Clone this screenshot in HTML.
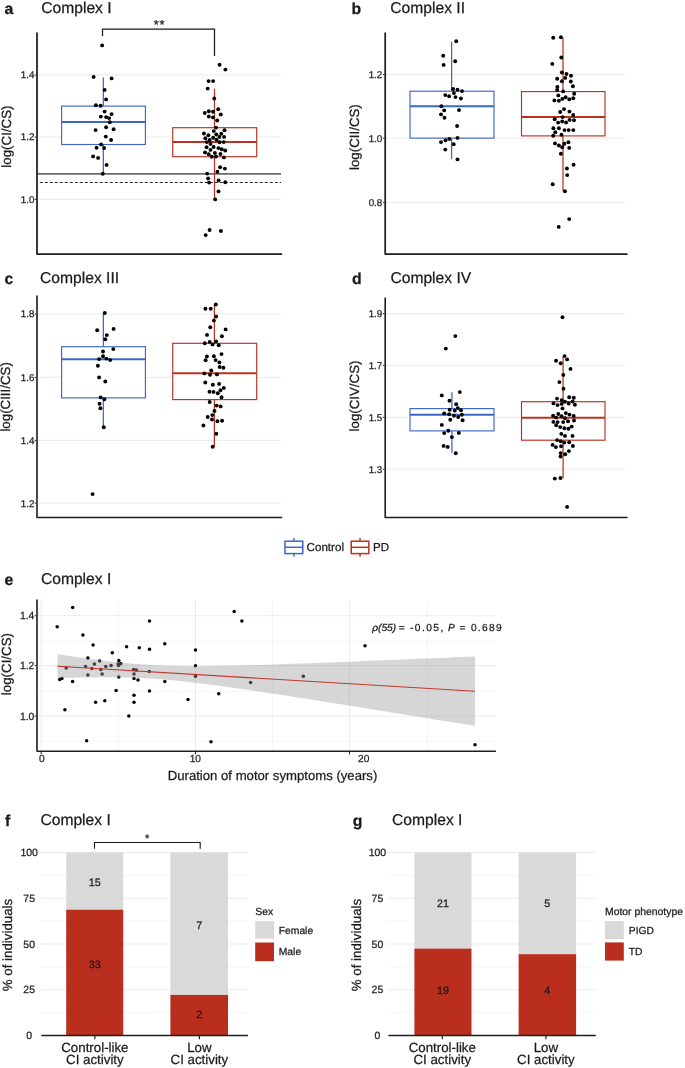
<!DOCTYPE html>
<html><head><meta charset="utf-8"><style>
html,body{margin:0;padding:0;background:#fff;}
svg{display:block;will-change:transform;}
text{font-family:"Liberation Sans",sans-serif;text-rendering:geometricPrecision;stroke:#1a1a1a;stroke-width:0.25px;paint-order:stroke;}
</style></head><body>
<svg width="685" height="1068" viewBox="0 0 685 1068">
<rect width="685" height="1068" fill="#fff"/>
<text x="4.4" y="13.8" font-size="15.8" text-anchor="start" font-weight="bold" fill="#1a1a1a" >a</text>
<text x="41.2" y="13.3" font-size="15.65" text-anchor="start" font-weight="normal" fill="#1a1a1a" >Complex I</text>
<line x1="37.4" y1="74.9" x2="281" y2="74.9" stroke="#ebebeb" stroke-width="1.0" />
<line x1="37.4" y1="137.0" x2="281" y2="137.0" stroke="#ebebeb" stroke-width="1.0" />
<line x1="37.4" y1="199.3" x2="281" y2="199.3" stroke="#ebebeb" stroke-width="1.0" />
<text x="34.4" y="78.379" font-size="9.8" text-anchor="end" font-weight="normal" fill="#222222" >1.4</text>
<line x1="34.699999999999996" y1="74.9" x2="36.3" y2="74.9" stroke="#222222" stroke-width="1.0" />
<text x="34.4" y="140.479" font-size="9.8" text-anchor="end" font-weight="normal" fill="#222222" >1.2</text>
<line x1="34.699999999999996" y1="137.0" x2="36.3" y2="137.0" stroke="#222222" stroke-width="1.0" />
<text x="34.4" y="202.77900000000002" font-size="9.8" text-anchor="end" font-weight="normal" fill="#222222" >1.0</text>
<line x1="34.699999999999996" y1="199.3" x2="36.3" y2="199.3" stroke="#222222" stroke-width="1.0" />
<text transform="translate(10.75,136.6) rotate(-90)" font-size="13.3" text-anchor="middle" fill="#1a1a1a">log(CI/CS)</text>
<line x1="37.4" y1="173.8" x2="281" y2="173.8" stroke="#6a6a6a" stroke-width="1.7" />
<line x1="37.4" y1="182.5" x2="281" y2="182.5" stroke="#262626" stroke-width="1.15" stroke-dasharray="3.0,2.0" stroke-dashoffset="2.6"/>
<line x1="103.35" y1="77.5" x2="103.35" y2="106.1" stroke="#3d67c6" stroke-width="1.25" />
<line x1="103.35" y1="144.5" x2="103.35" y2="173.7" stroke="#3d67c6" stroke-width="1.25" />
<rect x="61.6" y="106.1" width="83.80000000000001" height="38.400000000000006" fill="#fff" stroke="#3d67c6" stroke-width="1.15"/>
<line x1="61.6" y1="122.0" x2="145.4" y2="122.0" stroke="#3d67c6" stroke-width="2.0" />
<line x1="214.5" y1="88.7" x2="214.5" y2="127.7" stroke="#b8321f" stroke-width="1.25" />
<line x1="214.5" y1="156.7" x2="214.5" y2="199.3" stroke="#b8321f" stroke-width="1.25" />
<rect x="172.7" y="127.7" width="84.0" height="28.999999999999986" fill="#fff" stroke="#b8321f" stroke-width="1.15"/>
<line x1="172.7" y1="142.0" x2="256.7" y2="142.0" stroke="#b8321f" stroke-width="2.0" />
<circle cx="102.1" cy="45.4" r="1.95" fill="#000"/>
<circle cx="93.6" cy="76.9" r="1.95" fill="#000"/>
<circle cx="111.6" cy="78.4" r="1.95" fill="#000"/>
<circle cx="104.6" cy="89.9" r="1.95" fill="#000"/>
<circle cx="106.1" cy="99.4" r="1.95" fill="#000"/>
<circle cx="95.9" cy="105.3" r="1.95" fill="#000"/>
<circle cx="100.6" cy="105.8" r="1.95" fill="#000"/>
<circle cx="104.6" cy="111.6" r="1.95" fill="#000"/>
<circle cx="111.6" cy="114.1" r="1.95" fill="#000"/>
<circle cx="100.8" cy="116.6" r="1.95" fill="#000"/>
<circle cx="106.1" cy="117.1" r="1.95" fill="#000"/>
<circle cx="109.1" cy="118.1" r="1.95" fill="#000"/>
<circle cx="109.8" cy="122.3" r="1.95" fill="#000"/>
<circle cx="106.1" cy="127.3" r="1.95" fill="#000"/>
<circle cx="113.6" cy="129.3" r="1.95" fill="#000"/>
<circle cx="95.6" cy="130.1" r="1.95" fill="#000"/>
<circle cx="105.8" cy="136.6" r="1.95" fill="#000"/>
<circle cx="111.1" cy="140.0" r="1.95" fill="#000"/>
<circle cx="101.1" cy="144.4" r="1.95" fill="#000"/>
<circle cx="96.6" cy="147.7" r="1.95" fill="#000"/>
<circle cx="104.1" cy="148.0" r="1.95" fill="#000"/>
<circle cx="93.1" cy="156.4" r="1.95" fill="#000"/>
<circle cx="98.1" cy="157.9" r="1.95" fill="#000"/>
<circle cx="106.6" cy="164.9" r="1.95" fill="#000"/>
<circle cx="102.8" cy="173.7" r="1.95" fill="#000"/>
<circle cx="219.6" cy="64.7" r="1.95" fill="#000"/>
<circle cx="225.4" cy="69.6" r="1.95" fill="#000"/>
<circle cx="208.6" cy="81.1" r="1.95" fill="#000"/>
<circle cx="213.1" cy="81.1" r="1.95" fill="#000"/>
<circle cx="207.7" cy="88.6" r="1.95" fill="#000"/>
<circle cx="214.3" cy="98.5" r="1.95" fill="#000"/>
<circle cx="218.2" cy="109.2" r="1.95" fill="#000"/>
<circle cx="208.8" cy="111.2" r="1.95" fill="#000"/>
<circle cx="213" cy="111.8" r="1.95" fill="#000"/>
<circle cx="204.8" cy="113" r="1.95" fill="#000"/>
<circle cx="220.8" cy="114.5" r="1.95" fill="#000"/>
<circle cx="208.8" cy="116.5" r="1.95" fill="#000"/>
<circle cx="213" cy="117.4" r="1.95" fill="#000"/>
<circle cx="217.2" cy="120.5" r="1.95" fill="#000"/>
<circle cx="216" cy="127.6" r="1.95" fill="#000"/>
<circle cx="224.5" cy="130.3" r="1.95" fill="#000"/>
<circle cx="213.8" cy="131.1" r="1.95" fill="#000"/>
<circle cx="203.9" cy="133.5" r="1.95" fill="#000"/>
<circle cx="208.4" cy="135.3" r="1.95" fill="#000"/>
<circle cx="221.3" cy="133.7" r="1.95" fill="#000"/>
<circle cx="216.3" cy="134.5" r="1.95" fill="#000"/>
<circle cx="219.4" cy="136.9" r="1.95" fill="#000"/>
<circle cx="224.1" cy="136.9" r="1.95" fill="#000"/>
<circle cx="205.4" cy="138.2" r="1.95" fill="#000"/>
<circle cx="213.2" cy="137.8" r="1.95" fill="#000"/>
<circle cx="209.7" cy="140" r="1.95" fill="#000"/>
<circle cx="216.6" cy="139.7" r="1.95" fill="#000"/>
<circle cx="206.7" cy="142.1" r="1.95" fill="#000"/>
<circle cx="219.5" cy="142.2" r="1.95" fill="#000"/>
<circle cx="223.7" cy="142.1" r="1.95" fill="#000"/>
<circle cx="210.5" cy="143.9" r="1.95" fill="#000"/>
<circle cx="206.6" cy="147.3" r="1.95" fill="#000"/>
<circle cx="213.6" cy="147" r="1.95" fill="#000"/>
<circle cx="218.4" cy="148.1" r="1.95" fill="#000"/>
<circle cx="221.7" cy="149.2" r="1.95" fill="#000"/>
<circle cx="225.2" cy="150.5" r="1.95" fill="#000"/>
<circle cx="210.5" cy="149.9" r="1.95" fill="#000"/>
<circle cx="205" cy="152.4" r="1.95" fill="#000"/>
<circle cx="208.7" cy="154.2" r="1.95" fill="#000"/>
<circle cx="214.9" cy="153" r="1.95" fill="#000"/>
<circle cx="220.4" cy="154" r="1.95" fill="#000"/>
<circle cx="211.8" cy="156.7" r="1.95" fill="#000"/>
<circle cx="216" cy="156.5" r="1.95" fill="#000"/>
<circle cx="223.9" cy="157.4" r="1.95" fill="#000"/>
<circle cx="220.1" cy="167.2" r="1.95" fill="#000"/>
<circle cx="224.9" cy="168.6" r="1.95" fill="#000"/>
<circle cx="217.4" cy="171.7" r="1.95" fill="#000"/>
<circle cx="207.2" cy="173.6" r="1.95" fill="#000"/>
<circle cx="208.1" cy="178.5" r="1.95" fill="#000"/>
<circle cx="218.6" cy="180.4" r="1.95" fill="#000"/>
<circle cx="209.1" cy="182.6" r="1.95" fill="#000"/>
<circle cx="225.3" cy="182.3" r="1.95" fill="#000"/>
<circle cx="218.5" cy="191.4" r="1.95" fill="#000"/>
<circle cx="215.2" cy="199.4" r="1.95" fill="#000"/>
<circle cx="209.6" cy="230" r="1.95" fill="#000"/>
<circle cx="205.7" cy="235.1" r="1.95" fill="#000"/>
<circle cx="220.9" cy="231" r="1.95" fill="#000"/>
<path d="M37.0,32.5 L37.0,254.0 L282.2,254.0" fill="none" stroke="#1e1e1e" stroke-width="1.75" stroke-linejoin="round"/>
<polyline points="102.5,36.2 102.5,29.1 214.5,29.1 214.5,56.1" fill="none" stroke="#1a1a1a" stroke-width="1.25"/>
<text x="159.6" y="29.3" font-size="13.0" text-anchor="middle" font-weight="normal" fill="#1a1a1a" letter-spacing="0.7" stroke="#1a1a1a" stroke-width="0.35">**</text>
<text x="351.6" y="13.8" font-size="15.8" text-anchor="start" font-weight="bold" fill="#1a1a1a" >b</text>
<text x="390.3" y="13.3" font-size="15.65" text-anchor="start" font-weight="normal" fill="#1a1a1a" >Complex II</text>
<line x1="385.7" y1="74.5" x2="625" y2="74.5" stroke="#ebebeb" stroke-width="1.0" />
<line x1="385.7" y1="138.2" x2="625" y2="138.2" stroke="#ebebeb" stroke-width="1.0" />
<line x1="385.7" y1="202.4" x2="625" y2="202.4" stroke="#ebebeb" stroke-width="1.0" />
<text x="382.3" y="77.979" font-size="9.8" text-anchor="end" font-weight="normal" fill="#222222" >1.2</text>
<line x1="382.9" y1="74.5" x2="384.5" y2="74.5" stroke="#222222" stroke-width="1.0" />
<text x="382.3" y="141.679" font-size="9.8" text-anchor="end" font-weight="normal" fill="#222222" >1.0</text>
<line x1="382.9" y1="138.2" x2="384.5" y2="138.2" stroke="#222222" stroke-width="1.0" />
<text x="382.3" y="205.87900000000002" font-size="9.8" text-anchor="end" font-weight="normal" fill="#222222" >0.8</text>
<line x1="382.9" y1="202.4" x2="384.5" y2="202.4" stroke="#222222" stroke-width="1.0" />
<text transform="translate(358.9,137.1) rotate(-90)" font-size="13.3" text-anchor="middle" fill="#1a1a1a">log(CII/CS)</text>
<line x1="451.6" y1="41.7" x2="451.6" y2="91.2" stroke="#3d67c6" stroke-width="1.25" />
<line x1="451.6" y1="138.1" x2="451.6" y2="159.2" stroke="#3d67c6" stroke-width="1.25" />
<rect x="410.0" y="91.2" width="84.0" height="46.89999999999999" fill="#fff" stroke="#3d67c6" stroke-width="1.15"/>
<line x1="410.0" y1="106.3" x2="494.0" y2="106.3" stroke="#3d67c6" stroke-width="2.0" />
<line x1="563.0" y1="37.5" x2="563.0" y2="91.6" stroke="#b8321f" stroke-width="1.25" />
<line x1="563.0" y1="135.9" x2="563.0" y2="190.8" stroke="#b8321f" stroke-width="1.25" />
<rect x="521.5" y="91.6" width="83.5" height="44.30000000000001" fill="#fff" stroke="#b8321f" stroke-width="1.15"/>
<line x1="521.5" y1="117.0" x2="605.0" y2="117.0" stroke="#b8321f" stroke-width="2.0" />
<circle cx="456.2" cy="41.2" r="1.95" fill="#000"/>
<circle cx="443.2" cy="55.7" r="1.95" fill="#000"/>
<circle cx="455.2" cy="61.2" r="1.95" fill="#000"/>
<circle cx="443.6" cy="64.9" r="1.95" fill="#000"/>
<circle cx="453.1" cy="89" r="1.95" fill="#000"/>
<circle cx="457.5" cy="89.8" r="1.95" fill="#000"/>
<circle cx="462" cy="91.1" r="1.95" fill="#000"/>
<circle cx="453.9" cy="93.1" r="1.95" fill="#000"/>
<circle cx="445.3" cy="95.1" r="1.95" fill="#000"/>
<circle cx="449.1" cy="96.2" r="1.95" fill="#000"/>
<circle cx="455.5" cy="97.1" r="1.95" fill="#000"/>
<circle cx="460.9" cy="98.5" r="1.95" fill="#000"/>
<circle cx="441.4" cy="106.3" r="1.95" fill="#000"/>
<circle cx="444.2" cy="110.4" r="1.95" fill="#000"/>
<circle cx="459" cy="110.1" r="1.95" fill="#000"/>
<circle cx="441" cy="114.4" r="1.95" fill="#000"/>
<circle cx="444.5" cy="117.8" r="1.95" fill="#000"/>
<circle cx="457.1" cy="126" r="1.95" fill="#000"/>
<circle cx="457.5" cy="137.9" r="1.95" fill="#000"/>
<circle cx="449.3" cy="138.9" r="1.95" fill="#000"/>
<circle cx="445.5" cy="140.3" r="1.95" fill="#000"/>
<circle cx="441" cy="142.1" r="1.95" fill="#000"/>
<circle cx="453.7" cy="144.3" r="1.95" fill="#000"/>
<circle cx="445.3" cy="149.6" r="1.95" fill="#000"/>
<circle cx="457.5" cy="159.4" r="1.95" fill="#000"/>
<circle cx="553.2" cy="37.7" r="1.95" fill="#000"/>
<circle cx="560.9" cy="37.3" r="1.95" fill="#000"/>
<circle cx="561.3" cy="57.5" r="1.95" fill="#000"/>
<circle cx="552.3" cy="63.9" r="1.95" fill="#000"/>
<circle cx="561.9" cy="72.5" r="1.95" fill="#000"/>
<circle cx="566.5" cy="74" r="1.95" fill="#000"/>
<circle cx="571" cy="75.7" r="1.95" fill="#000"/>
<circle cx="557.2" cy="78.7" r="1.95" fill="#000"/>
<circle cx="565.2" cy="77.9" r="1.95" fill="#000"/>
<circle cx="561.9" cy="81.3" r="1.95" fill="#000"/>
<circle cx="570.8" cy="81.5" r="1.95" fill="#000"/>
<circle cx="572.9" cy="86.2" r="1.95" fill="#000"/>
<circle cx="557.4" cy="86.9" r="1.95" fill="#000"/>
<circle cx="557.2" cy="89.9" r="1.95" fill="#000"/>
<circle cx="563.2" cy="91.4" r="1.95" fill="#000"/>
<circle cx="574.2" cy="93.8" r="1.95" fill="#000"/>
<circle cx="558.3" cy="95.4" r="1.95" fill="#000"/>
<circle cx="554.4" cy="100.4" r="1.95" fill="#000"/>
<circle cx="558.9" cy="100.8" r="1.95" fill="#000"/>
<circle cx="562.4" cy="98.9" r="1.95" fill="#000"/>
<circle cx="565.6" cy="97.3" r="1.95" fill="#000"/>
<circle cx="569.3" cy="99.3" r="1.95" fill="#000"/>
<circle cx="573.3" cy="98.2" r="1.95" fill="#000"/>
<circle cx="564" cy="109.1" r="1.95" fill="#000"/>
<circle cx="560.2" cy="112" r="1.95" fill="#000"/>
<circle cx="569.5" cy="111.6" r="1.95" fill="#000"/>
<circle cx="573.2" cy="115" r="1.95" fill="#000"/>
<circle cx="562.6" cy="117.1" r="1.95" fill="#000"/>
<circle cx="554.7" cy="119.3" r="1.95" fill="#000"/>
<circle cx="558.1" cy="122.6" r="1.95" fill="#000"/>
<circle cx="562.2" cy="121.5" r="1.95" fill="#000"/>
<circle cx="566.1" cy="122.5" r="1.95" fill="#000"/>
<circle cx="569.6" cy="119.9" r="1.95" fill="#000"/>
<circle cx="574" cy="120.2" r="1.95" fill="#000"/>
<circle cx="553.4" cy="128.3" r="1.95" fill="#000"/>
<circle cx="558.9" cy="128.3" r="1.95" fill="#000"/>
<circle cx="564.5" cy="130.1" r="1.95" fill="#000"/>
<circle cx="568.7" cy="130.1" r="1.95" fill="#000"/>
<circle cx="573.3" cy="130.1" r="1.95" fill="#000"/>
<circle cx="555.3" cy="132.2" r="1.95" fill="#000"/>
<circle cx="553.2" cy="135.8" r="1.95" fill="#000"/>
<circle cx="561.5" cy="134.8" r="1.95" fill="#000"/>
<circle cx="555" cy="143.4" r="1.95" fill="#000"/>
<circle cx="558.9" cy="145.5" r="1.95" fill="#000"/>
<circle cx="562.2" cy="147.3" r="1.95" fill="#000"/>
<circle cx="564.3" cy="143.8" r="1.95" fill="#000"/>
<circle cx="568.4" cy="142.3" r="1.95" fill="#000"/>
<circle cx="569.2" cy="147.9" r="1.95" fill="#000"/>
<circle cx="560.9" cy="153.7" r="1.95" fill="#000"/>
<circle cx="573.6" cy="164.8" r="1.95" fill="#000"/>
<circle cx="566.9" cy="168.5" r="1.95" fill="#000"/>
<circle cx="567.2" cy="175.1" r="1.95" fill="#000"/>
<circle cx="552.7" cy="184.2" r="1.95" fill="#000"/>
<circle cx="564.9" cy="191.2" r="1.95" fill="#000"/>
<circle cx="569.2" cy="219.1" r="1.95" fill="#000"/>
<circle cx="558.7" cy="226.9" r="1.95" fill="#000"/>
<path d="M385.2,32.5 L385.2,254.0 L627.6,254.0" fill="none" stroke="#1e1e1e" stroke-width="1.75" stroke-linejoin="round"/>
<text x="4.6" y="283.8" font-size="15.8" text-anchor="start" font-weight="bold" fill="#1a1a1a" >c</text>
<text x="40.0" y="283.3" font-size="15.65" text-anchor="start" font-weight="normal" fill="#1a1a1a" >Complex III</text>
<line x1="37.4" y1="314.0" x2="281" y2="314.0" stroke="#ebebeb" stroke-width="1.0" />
<line x1="37.4" y1="377.3" x2="281" y2="377.3" stroke="#ebebeb" stroke-width="1.0" />
<line x1="37.4" y1="440.4" x2="281" y2="440.4" stroke="#ebebeb" stroke-width="1.0" />
<line x1="37.4" y1="503.1" x2="281" y2="503.1" stroke="#ebebeb" stroke-width="1.0" />
<text x="34.4" y="317.479" font-size="9.8" text-anchor="end" font-weight="normal" fill="#222222" >1.8</text>
<line x1="34.699999999999996" y1="314.0" x2="36.3" y2="314.0" stroke="#222222" stroke-width="1.0" />
<text x="34.4" y="380.779" font-size="9.8" text-anchor="end" font-weight="normal" fill="#222222" >1.6</text>
<line x1="34.699999999999996" y1="377.3" x2="36.3" y2="377.3" stroke="#222222" stroke-width="1.0" />
<text x="34.4" y="443.87899999999996" font-size="9.8" text-anchor="end" font-weight="normal" fill="#222222" >1.4</text>
<line x1="34.699999999999996" y1="440.4" x2="36.3" y2="440.4" stroke="#222222" stroke-width="1.0" />
<text x="34.4" y="506.579" font-size="9.8" text-anchor="end" font-weight="normal" fill="#222222" >1.2</text>
<line x1="34.699999999999996" y1="503.1" x2="36.3" y2="503.1" stroke="#222222" stroke-width="1.0" />
<text transform="translate(10.3,396.9) rotate(-90)" font-size="13.3" text-anchor="middle" fill="#1a1a1a">log(CIII/CS)</text>
<line x1="103.35" y1="313.5" x2="103.35" y2="346.7" stroke="#3d67c6" stroke-width="1.25" />
<line x1="103.35" y1="397.9" x2="103.35" y2="427.4" stroke="#3d67c6" stroke-width="1.25" />
<rect x="61.6" y="346.7" width="83.80000000000001" height="51.19999999999999" fill="#fff" stroke="#3d67c6" stroke-width="1.15"/>
<line x1="61.6" y1="359.3" x2="145.4" y2="359.3" stroke="#3d67c6" stroke-width="2.0" />
<line x1="214.4" y1="304.9" x2="214.4" y2="343.3" stroke="#b8321f" stroke-width="1.25" />
<line x1="214.4" y1="399.6" x2="214.4" y2="446.6" stroke="#b8321f" stroke-width="1.25" />
<rect x="172.7" y="343.3" width="84.0" height="56.30000000000001" fill="#fff" stroke="#b8321f" stroke-width="1.15"/>
<line x1="172.7" y1="373.3" x2="256.7" y2="373.3" stroke="#b8321f" stroke-width="2.0" />
<circle cx="104.8" cy="313" r="1.95" fill="#000"/>
<circle cx="97.2" cy="330.2" r="1.95" fill="#000"/>
<circle cx="113.6" cy="328.9" r="1.95" fill="#000"/>
<circle cx="106.8" cy="335.1" r="1.95" fill="#000"/>
<circle cx="105.3" cy="339.2" r="1.95" fill="#000"/>
<circle cx="113.3" cy="349.1" r="1.95" fill="#000"/>
<circle cx="103" cy="351.5" r="1.95" fill="#000"/>
<circle cx="103" cy="356.3" r="1.95" fill="#000"/>
<circle cx="99.1" cy="359.1" r="1.95" fill="#000"/>
<circle cx="106.4" cy="358.6" r="1.95" fill="#000"/>
<circle cx="110.2" cy="360.1" r="1.95" fill="#000"/>
<circle cx="97.9" cy="365.8" r="1.95" fill="#000"/>
<circle cx="99.1" cy="377.4" r="1.95" fill="#000"/>
<circle cx="105.3" cy="381.5" r="1.95" fill="#000"/>
<circle cx="100.7" cy="397.4" r="1.95" fill="#000"/>
<circle cx="104.4" cy="399.2" r="1.95" fill="#000"/>
<circle cx="99.6" cy="403.7" r="1.95" fill="#000"/>
<circle cx="100.4" cy="408.3" r="1.95" fill="#000"/>
<circle cx="103.8" cy="427.3" r="1.95" fill="#000"/>
<circle cx="92.6" cy="494.1" r="1.95" fill="#000"/>
<circle cx="215.8" cy="304.5" r="1.95" fill="#000"/>
<circle cx="205.4" cy="308.7" r="1.95" fill="#000"/>
<circle cx="210.7" cy="308.8" r="1.95" fill="#000"/>
<circle cx="216.1" cy="316.5" r="1.95" fill="#000"/>
<circle cx="213.9" cy="320.6" r="1.95" fill="#000"/>
<circle cx="210.3" cy="327.3" r="1.95" fill="#000"/>
<circle cx="225.6" cy="329.4" r="1.95" fill="#000"/>
<circle cx="207" cy="334.9" r="1.95" fill="#000"/>
<circle cx="221.9" cy="336.2" r="1.95" fill="#000"/>
<circle cx="204.8" cy="343.3" r="1.95" fill="#000"/>
<circle cx="209.7" cy="341.9" r="1.95" fill="#000"/>
<circle cx="212.6" cy="344.4" r="1.95" fill="#000"/>
<circle cx="216.1" cy="341.4" r="1.95" fill="#000"/>
<circle cx="218.7" cy="345.2" r="1.95" fill="#000"/>
<circle cx="221.5" cy="354.1" r="1.95" fill="#000"/>
<circle cx="206.9" cy="356.5" r="1.95" fill="#000"/>
<circle cx="213.9" cy="356.2" r="1.95" fill="#000"/>
<circle cx="205.6" cy="360.3" r="1.95" fill="#000"/>
<circle cx="215.6" cy="360.1" r="1.95" fill="#000"/>
<circle cx="219.4" cy="362.4" r="1.95" fill="#000"/>
<circle cx="219.7" cy="367" r="1.95" fill="#000"/>
<circle cx="223.4" cy="367.8" r="1.95" fill="#000"/>
<circle cx="211.3" cy="370.4" r="1.95" fill="#000"/>
<circle cx="204.4" cy="373.4" r="1.95" fill="#000"/>
<circle cx="210" cy="374.7" r="1.95" fill="#000"/>
<circle cx="216.9" cy="374.4" r="1.95" fill="#000"/>
<circle cx="205.3" cy="382.5" r="1.95" fill="#000"/>
<circle cx="212.9" cy="384.7" r="1.95" fill="#000"/>
<circle cx="219.1" cy="383.9" r="1.95" fill="#000"/>
<circle cx="223.8" cy="387.9" r="1.95" fill="#000"/>
<circle cx="220.5" cy="390.3" r="1.95" fill="#000"/>
<circle cx="209.5" cy="391.7" r="1.95" fill="#000"/>
<circle cx="213.5" cy="391.9" r="1.95" fill="#000"/>
<circle cx="217.8" cy="393.3" r="1.95" fill="#000"/>
<circle cx="221.5" cy="397.2" r="1.95" fill="#000"/>
<circle cx="209.7" cy="402" r="1.95" fill="#000"/>
<circle cx="216.6" cy="405.6" r="1.95" fill="#000"/>
<circle cx="220.6" cy="406.4" r="1.95" fill="#000"/>
<circle cx="214.5" cy="410.9" r="1.95" fill="#000"/>
<circle cx="212.3" cy="415.1" r="1.95" fill="#000"/>
<circle cx="207.7" cy="417" r="1.95" fill="#000"/>
<circle cx="212" cy="419.5" r="1.95" fill="#000"/>
<circle cx="217.4" cy="421.3" r="1.95" fill="#000"/>
<circle cx="222.1" cy="420.7" r="1.95" fill="#000"/>
<circle cx="203.4" cy="425.5" r="1.95" fill="#000"/>
<circle cx="216.3" cy="433.7" r="1.95" fill="#000"/>
<circle cx="212.7" cy="446.7" r="1.95" fill="#000"/>
<path d="M37.0,295.5 L37.0,517.5 L282.2,517.5" fill="none" stroke="#1e1e1e" stroke-width="1.6" stroke-linejoin="round"/>
<text x="352.0" y="283.8" font-size="15.8" text-anchor="start" font-weight="bold" fill="#1a1a1a" >d</text>
<text x="390.4" y="283.3" font-size="15.65" text-anchor="start" font-weight="normal" fill="#1a1a1a" >Complex IV</text>
<line x1="385.7" y1="313.7" x2="625" y2="313.7" stroke="#ebebeb" stroke-width="1.0" />
<line x1="385.7" y1="365.4" x2="625" y2="365.4" stroke="#ebebeb" stroke-width="1.0" />
<line x1="385.7" y1="417.3" x2="625" y2="417.3" stroke="#ebebeb" stroke-width="1.0" />
<line x1="385.7" y1="469.2" x2="625" y2="469.2" stroke="#ebebeb" stroke-width="1.0" />
<text x="382.3" y="317.179" font-size="9.8" text-anchor="end" font-weight="normal" fill="#222222" >1.9</text>
<line x1="382.9" y1="313.7" x2="384.5" y2="313.7" stroke="#222222" stroke-width="1.0" />
<text x="382.3" y="368.87899999999996" font-size="9.8" text-anchor="end" font-weight="normal" fill="#222222" >1.7</text>
<line x1="382.9" y1="365.4" x2="384.5" y2="365.4" stroke="#222222" stroke-width="1.0" />
<text x="382.3" y="420.779" font-size="9.8" text-anchor="end" font-weight="normal" fill="#222222" >1.5</text>
<line x1="382.9" y1="417.3" x2="384.5" y2="417.3" stroke="#222222" stroke-width="1.0" />
<text x="382.3" y="472.679" font-size="9.8" text-anchor="end" font-weight="normal" fill="#222222" >1.3</text>
<line x1="382.9" y1="469.2" x2="384.5" y2="469.2" stroke="#222222" stroke-width="1.0" />
<text transform="translate(358.9,396.0) rotate(-90)" font-size="13.3" text-anchor="middle" fill="#1a1a1a">log(CIV/CS)</text>
<line x1="451.9" y1="392.3" x2="451.9" y2="408.6" stroke="#3d67c6" stroke-width="1.25" />
<line x1="451.9" y1="430.9" x2="451.9" y2="452.9" stroke="#3d67c6" stroke-width="1.25" />
<rect x="410.0" y="408.6" width="84.0" height="22.299999999999955" fill="#fff" stroke="#3d67c6" stroke-width="1.15"/>
<line x1="410.0" y1="414.7" x2="494.0" y2="414.7" stroke="#3d67c6" stroke-width="2.0" />
<line x1="563.1" y1="356.3" x2="563.1" y2="401.7" stroke="#b8321f" stroke-width="1.25" />
<line x1="563.1" y1="440.2" x2="563.1" y2="478.2" stroke="#b8321f" stroke-width="1.25" />
<rect x="521.5" y="401.7" width="83.5" height="38.5" fill="#fff" stroke="#b8321f" stroke-width="1.15"/>
<line x1="521.5" y1="417.8" x2="605.0" y2="417.8" stroke="#b8321f" stroke-width="2.0" />
<circle cx="455.3" cy="336.1" r="1.95" fill="#000"/>
<circle cx="445.8" cy="348.6" r="1.95" fill="#000"/>
<circle cx="459.8" cy="392.1" r="1.95" fill="#000"/>
<circle cx="441.8" cy="395.4" r="1.95" fill="#000"/>
<circle cx="449.5" cy="400.8" r="1.95" fill="#000"/>
<circle cx="456.2" cy="404.3" r="1.95" fill="#000"/>
<circle cx="457.8" cy="408.1" r="1.95" fill="#000"/>
<circle cx="449.7" cy="409.7" r="1.95" fill="#000"/>
<circle cx="454.7" cy="410.6" r="1.95" fill="#000"/>
<circle cx="461" cy="410.3" r="1.95" fill="#000"/>
<circle cx="444.2" cy="413.4" r="1.95" fill="#000"/>
<circle cx="449.1" cy="414.2" r="1.95" fill="#000"/>
<circle cx="454" cy="415.8" r="1.95" fill="#000"/>
<circle cx="458.2" cy="417" r="1.95" fill="#000"/>
<circle cx="461.9" cy="414.8" r="1.95" fill="#000"/>
<circle cx="450.3" cy="419.8" r="1.95" fill="#000"/>
<circle cx="462.6" cy="420.3" r="1.95" fill="#000"/>
<circle cx="441.8" cy="424.9" r="1.95" fill="#000"/>
<circle cx="448.3" cy="430.8" r="1.95" fill="#000"/>
<circle cx="444.2" cy="433.1" r="1.95" fill="#000"/>
<circle cx="458.8" cy="432.9" r="1.95" fill="#000"/>
<circle cx="451.9" cy="437.1" r="1.95" fill="#000"/>
<circle cx="443.6" cy="445.9" r="1.95" fill="#000"/>
<circle cx="447.7" cy="446.9" r="1.95" fill="#000"/>
<circle cx="455.8" cy="453.2" r="1.95" fill="#000"/>
<circle cx="562.5" cy="317.2" r="1.95" fill="#000"/>
<circle cx="564.6" cy="356.1" r="1.95" fill="#000"/>
<circle cx="567.1" cy="359.4" r="1.95" fill="#000"/>
<circle cx="556.1" cy="360.8" r="1.95" fill="#000"/>
<circle cx="560.7" cy="363.2" r="1.95" fill="#000"/>
<circle cx="570.5" cy="368.9" r="1.95" fill="#000"/>
<circle cx="563.3" cy="374.9" r="1.95" fill="#000"/>
<circle cx="559.4" cy="382.1" r="1.95" fill="#000"/>
<circle cx="563.5" cy="388.8" r="1.95" fill="#000"/>
<circle cx="557" cy="398.6" r="1.95" fill="#000"/>
<circle cx="569.2" cy="397.3" r="1.95" fill="#000"/>
<circle cx="573.8" cy="397.7" r="1.95" fill="#000"/>
<circle cx="561.7" cy="400.1" r="1.95" fill="#000"/>
<circle cx="564.9" cy="401.7" r="1.95" fill="#000"/>
<circle cx="572.6" cy="401.5" r="1.95" fill="#000"/>
<circle cx="553.5" cy="403.4" r="1.95" fill="#000"/>
<circle cx="557.6" cy="405.1" r="1.95" fill="#000"/>
<circle cx="561.7" cy="403.9" r="1.95" fill="#000"/>
<circle cx="568.7" cy="403.5" r="1.95" fill="#000"/>
<circle cx="574.9" cy="404.7" r="1.95" fill="#000"/>
<circle cx="562.5" cy="408.4" r="1.95" fill="#000"/>
<circle cx="553.1" cy="415.7" r="1.95" fill="#000"/>
<circle cx="558.3" cy="414" r="1.95" fill="#000"/>
<circle cx="556.2" cy="417.6" r="1.95" fill="#000"/>
<circle cx="561.6" cy="416.2" r="1.95" fill="#000"/>
<circle cx="565.8" cy="413.1" r="1.95" fill="#000"/>
<circle cx="569.5" cy="414.6" r="1.95" fill="#000"/>
<circle cx="573.7" cy="415.9" r="1.95" fill="#000"/>
<circle cx="565" cy="418.3" r="1.95" fill="#000"/>
<circle cx="553.4" cy="421.9" r="1.95" fill="#000"/>
<circle cx="557.6" cy="422.1" r="1.95" fill="#000"/>
<circle cx="563.2" cy="422.1" r="1.95" fill="#000"/>
<circle cx="568" cy="421.3" r="1.95" fill="#000"/>
<circle cx="574" cy="420.5" r="1.95" fill="#000"/>
<circle cx="556.2" cy="425.2" r="1.95" fill="#000"/>
<circle cx="560.2" cy="427.1" r="1.95" fill="#000"/>
<circle cx="564.4" cy="428.3" r="1.95" fill="#000"/>
<circle cx="568.4" cy="428.8" r="1.95" fill="#000"/>
<circle cx="571.7" cy="426.6" r="1.95" fill="#000"/>
<circle cx="561.3" cy="433.9" r="1.95" fill="#000"/>
<circle cx="565" cy="435.9" r="1.95" fill="#000"/>
<circle cx="572.5" cy="435.9" r="1.95" fill="#000"/>
<circle cx="557.1" cy="440.1" r="1.95" fill="#000"/>
<circle cx="560.7" cy="441.2" r="1.95" fill="#000"/>
<circle cx="564.3" cy="442.6" r="1.95" fill="#000"/>
<circle cx="569.2" cy="442.3" r="1.95" fill="#000"/>
<circle cx="552.6" cy="444.9" r="1.95" fill="#000"/>
<circle cx="555.9" cy="447.1" r="1.95" fill="#000"/>
<circle cx="561.1" cy="446.3" r="1.95" fill="#000"/>
<circle cx="572.9" cy="446" r="1.95" fill="#000"/>
<circle cx="560.7" cy="453.1" r="1.95" fill="#000"/>
<circle cx="565.2" cy="454.2" r="1.95" fill="#000"/>
<circle cx="568.9" cy="451.1" r="1.95" fill="#000"/>
<circle cx="560.5" cy="456.5" r="1.95" fill="#000"/>
<circle cx="554.8" cy="478.6" r="1.95" fill="#000"/>
<circle cx="560.5" cy="478" r="1.95" fill="#000"/>
<circle cx="567.1" cy="506.9" r="1.95" fill="#000"/>
<path d="M385.2,297.5 L385.2,517.5 L627.6,517.5" fill="none" stroke="#1e1e1e" stroke-width="1.6" stroke-linejoin="round"/>
<line x1="293.85" y1="537.9" x2="293.85" y2="541.0" stroke="#3d67c6" stroke-width="1.4" />
<line x1="293.85" y1="553.6" x2="293.85" y2="556.7" stroke="#3d67c6" stroke-width="1.4" />
<rect x="284.95" y="541.2" width="17.80000000000001" height="12.4" fill="none" stroke="#3d67c6" stroke-width="1.5"/>
<line x1="284.95" y1="547.3" x2="302.75" y2="547.3" stroke="#3d67c6" stroke-width="1.5" />
<text x="306.6" y="550.8" font-size="11.6" text-anchor="start" font-weight="normal" fill="#1a1a1a" >Control</text>
<line x1="360.05" y1="537.9" x2="360.05" y2="541.0" stroke="#b8321f" stroke-width="1.4" />
<line x1="360.05" y1="553.6" x2="360.05" y2="556.7" stroke="#b8321f" stroke-width="1.4" />
<rect x="351.25" y="541.2" width="17.600000000000023" height="12.4" fill="none" stroke="#b8321f" stroke-width="1.5"/>
<line x1="351.25" y1="547.3" x2="368.85" y2="547.3" stroke="#b8321f" stroke-width="1.5" />
<text x="373.1" y="550.8" font-size="11.6" text-anchor="start" font-weight="normal" fill="#1a1a1a" >PD</text>
<text x="4.6" y="584.6" font-size="15.8" text-anchor="start" font-weight="bold" fill="#1a1a1a" >e</text>
<text x="40.9" y="584.1" font-size="15.65" text-anchor="start" font-weight="normal" fill="#1a1a1a" >Complex I</text>
<line x1="37.4" y1="641.2" x2="496.3" y2="641.2" stroke="#f2f2f2" stroke-width="0.8" />
<line x1="37.4" y1="691.2" x2="496.3" y2="691.2" stroke="#f2f2f2" stroke-width="0.8" />
<line x1="37.4" y1="741.2" x2="496.3" y2="741.2" stroke="#f2f2f2" stroke-width="0.8" />
<line x1="118.4" y1="599.5" x2="118.4" y2="751" stroke="#f2f2f2" stroke-width="0.8" />
<line x1="272.4" y1="599.5" x2="272.4" y2="751" stroke="#f2f2f2" stroke-width="0.8" />
<line x1="426.9" y1="599.5" x2="426.9" y2="751" stroke="#f2f2f2" stroke-width="0.8" />
<line x1="37.4" y1="615.7" x2="496.3" y2="615.7" stroke="#ebebeb" stroke-width="1.0" />
<line x1="37.4" y1="665.6" x2="496.3" y2="665.6" stroke="#ebebeb" stroke-width="1.0" />
<line x1="37.4" y1="716.1" x2="496.3" y2="716.1" stroke="#ebebeb" stroke-width="1.0" />
<line x1="41.2" y1="599.5" x2="41.2" y2="751" stroke="#ebebeb" stroke-width="1.0" />
<line x1="195.5" y1="599.5" x2="195.5" y2="751" stroke="#ebebeb" stroke-width="1.0" />
<line x1="349.5" y1="599.5" x2="349.5" y2="751" stroke="#ebebeb" stroke-width="1.0" />
<text x="34.4" y="619.392" font-size="10.4" text-anchor="end" font-weight="normal" fill="#222222" >1.4</text>
<line x1="34.699999999999996" y1="615.7" x2="36.3" y2="615.7" stroke="#222222" stroke-width="1.0" />
<text x="34.4" y="669.292" font-size="10.4" text-anchor="end" font-weight="normal" fill="#222222" >1.2</text>
<line x1="34.699999999999996" y1="665.6" x2="36.3" y2="665.6" stroke="#222222" stroke-width="1.0" />
<text x="34.4" y="719.792" font-size="10.4" text-anchor="end" font-weight="normal" fill="#222222" >1.0</text>
<line x1="34.699999999999996" y1="716.1" x2="36.3" y2="716.1" stroke="#222222" stroke-width="1.0" />
<text transform="translate(10.75,664.1) rotate(-90)" font-size="13.3" text-anchor="middle" fill="#1a1a1a">log(CI/CS)</text>
<circle cx="72.7" cy="607.5" r="1.75" fill="#000"/>
<circle cx="57.2" cy="626.7" r="1.75" fill="#000"/>
<circle cx="82.9" cy="635" r="1.75" fill="#000"/>
<circle cx="93.1" cy="645" r="1.75" fill="#000"/>
<circle cx="149.5" cy="621" r="1.75" fill="#000"/>
<circle cx="164.8" cy="643.7" r="1.75" fill="#000"/>
<circle cx="126.6" cy="646.7" r="1.75" fill="#000"/>
<circle cx="139.3" cy="647.7" r="1.75" fill="#000"/>
<circle cx="149.5" cy="649.2" r="1.75" fill="#000"/>
<circle cx="112.3" cy="652.7" r="1.75" fill="#000"/>
<circle cx="87.9" cy="658.1" r="1.75" fill="#000"/>
<circle cx="118.8" cy="660.6" r="1.75" fill="#000"/>
<circle cx="99.6" cy="661.1" r="1.75" fill="#000"/>
<circle cx="94.4" cy="664.1" r="1.75" fill="#000"/>
<circle cx="120.8" cy="663.4" r="1.75" fill="#000"/>
<circle cx="118.1" cy="664.1" r="1.75" fill="#000"/>
<circle cx="111.1" cy="665.6" r="1.75" fill="#000"/>
<circle cx="105.8" cy="666.6" r="1.75" fill="#000"/>
<circle cx="85.6" cy="666.6" r="1.75" fill="#000"/>
<circle cx="66.2" cy="668.1" r="1.75" fill="#000"/>
<circle cx="91.9" cy="668.6" r="1.75" fill="#000"/>
<circle cx="100.8" cy="669.4" r="1.75" fill="#000"/>
<circle cx="133.6" cy="669.4" r="1.75" fill="#000"/>
<circle cx="136.4" cy="669.9" r="1.75" fill="#000"/>
<circle cx="118.6" cy="665.6" r="1.75" fill="#000"/>
<circle cx="149.3" cy="671.4" r="1.75" fill="#000"/>
<circle cx="87.9" cy="674.9" r="1.75" fill="#000"/>
<circle cx="102.1" cy="673.9" r="1.75" fill="#000"/>
<circle cx="134" cy="674.1" r="1.75" fill="#000"/>
<circle cx="118.8" cy="676.9" r="1.75" fill="#000"/>
<circle cx="61.9" cy="678.6" r="1.75" fill="#000"/>
<circle cx="59.7" cy="679.6" r="1.75" fill="#000"/>
<circle cx="134" cy="678.6" r="1.75" fill="#000"/>
<circle cx="138" cy="679.9" r="1.75" fill="#000"/>
<circle cx="72.6" cy="681.6" r="1.75" fill="#000"/>
<circle cx="164.8" cy="681.6" r="1.75" fill="#000"/>
<circle cx="116.1" cy="690.4" r="1.75" fill="#000"/>
<circle cx="149.5" cy="691.1" r="1.75" fill="#000"/>
<circle cx="134" cy="695.3" r="1.75" fill="#000"/>
<circle cx="104.8" cy="700.8" r="1.75" fill="#000"/>
<circle cx="95.6" cy="702.3" r="1.75" fill="#000"/>
<circle cx="134" cy="702.3" r="1.75" fill="#000"/>
<circle cx="64.9" cy="709.8" r="1.75" fill="#000"/>
<circle cx="128.8" cy="716.1" r="1.75" fill="#000"/>
<circle cx="86.6" cy="740.8" r="1.75" fill="#000"/>
<circle cx="234.2" cy="611.5" r="1.75" fill="#000"/>
<circle cx="241.9" cy="621" r="1.75" fill="#000"/>
<circle cx="195.5" cy="650" r="1.75" fill="#000"/>
<circle cx="195.5" cy="665.7" r="1.75" fill="#000"/>
<circle cx="195.5" cy="676.2" r="1.75" fill="#000"/>
<circle cx="250.6" cy="682.5" r="1.75" fill="#000"/>
<circle cx="303.3" cy="676.2" r="1.75" fill="#000"/>
<circle cx="188" cy="699.5" r="1.75" fill="#000"/>
<circle cx="218.7" cy="693.7" r="1.75" fill="#000"/>
<circle cx="211" cy="741.7" r="1.75" fill="#000"/>
<circle cx="365" cy="645.7" r="1.75" fill="#000"/>
<circle cx="475" cy="744.8" r="1.75" fill="#000"/>
<polygon points="57.50,654.36 64.46,655.37 71.42,656.35 78.38,657.32 85.33,658.27 92.29,659.19 99.25,660.07 106.21,660.92 113.17,661.72 120.12,662.47 127.08,663.16 134.04,663.79 141.00,664.35 147.96,664.82 154.92,665.22 161.88,665.55 168.83,665.80 175.79,665.97 182.75,666.09 189.71,666.15 196.67,666.16 203.62,666.13 210.58,666.07 217.54,665.97 224.50,665.85 231.46,665.70 238.42,665.54 245.38,665.36 252.33,665.17 259.29,664.96 266.25,664.74 273.21,664.52 280.17,664.29 287.12,664.05 294.08,663.80 301.04,663.55 308.00,663.29 314.96,663.03 321.92,662.77 328.88,662.50 335.83,662.23 342.79,661.95 349.75,661.68 356.71,661.40 363.67,661.12 370.62,660.84 377.58,660.55 384.54,660.26 391.50,659.98 398.46,659.69 405.42,659.40 412.38,659.11 419.33,658.81 426.29,658.52 433.25,658.23 440.21,657.93 447.17,657.64 454.12,657.34 461.08,657.04 468.04,656.74 475.00,656.44 475.00,725.96 468.04,724.82 461.08,723.69 454.12,722.56 447.17,721.43 440.21,720.30 433.25,719.17 426.29,718.05 419.33,716.92 412.38,715.79 405.42,714.67 398.46,713.55 391.50,712.42 384.54,711.30 377.58,710.18 370.62,709.06 363.67,707.95 356.71,706.83 349.75,705.72 342.79,704.61 335.83,703.51 328.88,702.40 321.92,701.30 314.96,700.20 308.00,699.11 301.04,698.02 294.08,696.93 287.12,695.85 280.17,694.78 273.21,693.71 266.25,692.66 259.29,691.61 252.33,690.57 245.38,689.54 238.42,688.53 231.46,687.53 224.50,686.55 217.54,685.60 210.58,684.67 203.62,683.77 196.67,682.90 189.71,682.08 182.75,681.31 175.79,680.59 168.83,679.94 161.88,679.35 154.92,678.84 147.96,678.41 141.00,678.05 134.04,677.78 127.08,677.57 120.12,677.43 113.17,677.35 106.21,677.31 99.25,677.33 92.29,677.38 85.33,677.46 78.38,677.58 71.42,677.71 64.46,677.87 57.50,678.04" fill="#999999" fill-opacity="0.4"/>
<line x1="57.5" y1="666.2" x2="475" y2="691.2" stroke="#c0392b" stroke-width="1.1" />
<path d="M37.0,599.5 L37.0,751.3 L495.9,751.3" fill="none" stroke="#1e1e1e" stroke-width="1.6" stroke-linejoin="round"/>
<line x1="41.2" y1="751.8" x2="41.2" y2="754.4" stroke="#222222" stroke-width="1.0" />
<line x1="195.5" y1="751.8" x2="195.5" y2="754.4" stroke="#222222" stroke-width="1.0" />
<line x1="349.5" y1="751.8" x2="349.5" y2="754.4" stroke="#222222" stroke-width="1.0" />
<text x="41.8" y="762.4" font-size="10.2" text-anchor="middle" font-weight="normal" fill="#222222" >0</text>
<text x="195.3" y="762.4" font-size="10.2" text-anchor="middle" font-weight="normal" fill="#222222" >10</text>
<text x="363.7" y="762.4" font-size="10.2" text-anchor="middle" font-weight="normal" fill="#222222" >20</text>
<text x="272.5" y="779.6" font-size="13.15" text-anchor="middle" font-weight="normal" fill="#1a1a1a" >Duration of motor symptoms (years)</text>
<text x="372.2" y="631.3" font-size="10.2" fill="#1a1a1a" font-style="italic">ρ(55)</text>
<text x="398.7" y="631.3" font-size="10.2" fill="#1a1a1a">=</text>
<text x="410.0" y="631.3" font-size="10.2" fill="#1a1a1a" letter-spacing="1.45">-0.05,</text>
<text x="448.0" y="631.3" font-size="10.2" fill="#1a1a1a" font-style="italic">P</text>
<text x="459.4" y="631.3" font-size="10.2" fill="#1a1a1a">=</text>
<text x="470.9" y="631.3" font-size="10.2" fill="#1a1a1a" letter-spacing="1.3">0.689</text>
<text x="5.0" y="825.5" font-size="15.8" text-anchor="start" font-weight="bold" fill="#1a1a1a" >f</text>
<text x="40.4" y="825.0" font-size="15.65" text-anchor="start" font-weight="normal" fill="#1a1a1a" >Complex I</text>
<line x1="40.7" y1="875.4" x2="247.6" y2="875.4" stroke="#f2f2f2" stroke-width="0.8" />
<line x1="40.7" y1="921.1" x2="247.6" y2="921.1" stroke="#f2f2f2" stroke-width="0.8" />
<line x1="40.7" y1="966.9" x2="247.6" y2="966.9" stroke="#f2f2f2" stroke-width="0.8" />
<line x1="40.7" y1="1012.6" x2="247.6" y2="1012.6" stroke="#f2f2f2" stroke-width="0.8" />
<line x1="40.7" y1="852.5" x2="247.6" y2="852.5" stroke="#ebebeb" stroke-width="1.0" />
<line x1="40.7" y1="898.25" x2="247.6" y2="898.25" stroke="#ebebeb" stroke-width="1.0" />
<line x1="40.7" y1="944.0" x2="247.6" y2="944.0" stroke="#ebebeb" stroke-width="1.0" />
<line x1="40.7" y1="989.75" x2="247.6" y2="989.75" stroke="#ebebeb" stroke-width="1.0" />
<text x="29.2" y="856.2275" font-size="10.5" text-anchor="middle" font-weight="normal" fill="#222222" >100</text>
<text x="29.2" y="901.9775" font-size="10.5" text-anchor="middle" font-weight="normal" fill="#222222" >75</text>
<text x="29.2" y="947.7275" font-size="10.5" text-anchor="middle" font-weight="normal" fill="#222222" >50</text>
<text x="29.2" y="993.4775" font-size="10.5" text-anchor="middle" font-weight="normal" fill="#222222" >25</text>
<text x="29.2" y="1039.2275" font-size="10.5" text-anchor="middle" font-weight="normal" fill="#222222" >0</text>
<rect x="66.2" y="852.5" width="57.0" height="57.200000000000045" fill="#d9d9d9"/>
<rect x="66.2" y="909.7" width="57.0" height="125.79999999999995" fill="#b92e1d"/>
<text x="94.7" y="886.3" font-size="10.8" text-anchor="middle" font-weight="normal" fill="#1a1a1a" >15</text>
<text x="94.7" y="967.5" font-size="10.8" text-anchor="middle" font-weight="normal" fill="#1a1a1a" >33</text>
<rect x="170.4" y="852.5" width="57.599999999999994" height="142.39999999999998" fill="#d9d9d9"/>
<rect x="170.4" y="994.9" width="57.599999999999994" height="40.60000000000002" fill="#b92e1d"/>
<text x="199.2" y="928.8" font-size="10.8" text-anchor="middle" font-weight="normal" fill="#1a1a1a" >7</text>
<text x="199.2" y="1018.3" font-size="10.8" text-anchor="middle" font-weight="normal" fill="#1a1a1a" >2</text>
<line x1="41.400000000000006" y1="1035.5" x2="247.9" y2="1035.5" stroke="#1e1e1e" stroke-width="1.5" />
<line x1="94.9" y1="1036" x2="94.9" y2="1039.3" stroke="#222222" stroke-width="1.2" />
<text x="94.9" y="1052.0" font-size="13.3" text-anchor="middle" font-weight="normal" fill="#1a1a1a" >Control-like</text>
<text x="94.9" y="1063.5" font-size="13.3" text-anchor="middle" font-weight="normal" fill="#1a1a1a" >CI activity</text>
<line x1="199.4" y1="1036" x2="199.4" y2="1039.3" stroke="#222222" stroke-width="1.2" />
<text x="199.4" y="1052.0" font-size="13.3" text-anchor="middle" font-weight="normal" fill="#1a1a1a" >Low</text>
<text x="199.4" y="1063.5" font-size="13.3" text-anchor="middle" font-weight="normal" fill="#1a1a1a" >CI activity</text>
<text transform="translate(12.0,945.0) rotate(-90)" font-size="13.3" text-anchor="middle" fill="#1a1a1a">% of individuals</text>
<polyline points="94.5,848.7 94.5,842.5 200.2,842.5 200.2,848.7" fill="none" stroke="#1a1a1a" stroke-width="1.1"/>
<text x="147.2" y="841.9" font-size="11" text-anchor="middle" font-weight="normal" fill="#1a1a1a" stroke="#1a1a1a" stroke-width="0.3">*</text>
<text x="255.3" y="915.0" font-size="10.4" text-anchor="start" font-weight="normal" fill="#1a1a1a" >Sex</text>
<rect x="255.2" y="921.2" width="18.8" height="17.5" fill="#d9d9d9"/>
<rect x="255.2" y="942.5" width="18.8" height="18.7" fill="#b92e1d"/>
<text x="278.8" y="934.2" font-size="10.3" text-anchor="start" font-weight="normal" fill="#1a1a1a" >Female</text>
<text x="278.8" y="954.8" font-size="10.3" text-anchor="start" font-weight="normal" fill="#1a1a1a" >Male</text>
<text x="352.8" y="825.5" font-size="15.8" text-anchor="start" font-weight="bold" fill="#1a1a1a" >g</text>
<text x="392.0" y="825.0" font-size="15.65" text-anchor="start" font-weight="normal" fill="#1a1a1a" >Complex I</text>
<line x1="387.7" y1="875.4" x2="595.5" y2="875.4" stroke="#f2f2f2" stroke-width="0.8" />
<line x1="387.7" y1="921.1" x2="595.5" y2="921.1" stroke="#f2f2f2" stroke-width="0.8" />
<line x1="387.7" y1="966.9" x2="595.5" y2="966.9" stroke="#f2f2f2" stroke-width="0.8" />
<line x1="387.7" y1="1012.6" x2="595.5" y2="1012.6" stroke="#f2f2f2" stroke-width="0.8" />
<line x1="387.7" y1="852.5" x2="595.5" y2="852.5" stroke="#ebebeb" stroke-width="1.0" />
<line x1="387.7" y1="898.25" x2="595.5" y2="898.25" stroke="#ebebeb" stroke-width="1.0" />
<line x1="387.7" y1="944.0" x2="595.5" y2="944.0" stroke="#ebebeb" stroke-width="1.0" />
<line x1="387.7" y1="989.75" x2="595.5" y2="989.75" stroke="#ebebeb" stroke-width="1.0" />
<text x="377.4" y="856.2275" font-size="10.5" text-anchor="middle" font-weight="normal" fill="#222222" >100</text>
<text x="377.4" y="901.9775" font-size="10.5" text-anchor="middle" font-weight="normal" fill="#222222" >75</text>
<text x="377.4" y="947.7275" font-size="10.5" text-anchor="middle" font-weight="normal" fill="#222222" >50</text>
<text x="377.4" y="993.4775" font-size="10.5" text-anchor="middle" font-weight="normal" fill="#222222" >25</text>
<text x="377.4" y="1039.2275" font-size="10.5" text-anchor="middle" font-weight="normal" fill="#222222" >0</text>
<rect x="414.4" y="852.5" width="57.10000000000002" height="96.10000000000002" fill="#d9d9d9"/>
<rect x="414.4" y="948.6" width="57.10000000000002" height="86.89999999999998" fill="#b92e1d"/>
<text x="442.95" y="907.0" font-size="10.8" text-anchor="middle" font-weight="normal" fill="#1a1a1a" >21</text>
<text x="442.95" y="993.9" font-size="10.8" text-anchor="middle" font-weight="normal" fill="#1a1a1a" >19</text>
<rect x="518.6" y="852.5" width="57.5" height="101.70000000000005" fill="#d9d9d9"/>
<rect x="518.6" y="954.2" width="57.5" height="81.29999999999995" fill="#b92e1d"/>
<text x="547.35" y="907.0" font-size="10.8" text-anchor="middle" font-weight="normal" fill="#1a1a1a" >5</text>
<text x="547.35" y="993.5999999999999" font-size="10.8" text-anchor="middle" font-weight="normal" fill="#1a1a1a" >4</text>
<line x1="388.4" y1="1035.5" x2="595.8" y2="1035.5" stroke="#1e1e1e" stroke-width="1.5" />
<line x1="442.3" y1="1036" x2="442.3" y2="1039.3" stroke="#222222" stroke-width="1.2" />
<text x="442.3" y="1052.0" font-size="13.3" text-anchor="middle" font-weight="normal" fill="#1a1a1a" >Control-like</text>
<text x="442.3" y="1063.5" font-size="13.3" text-anchor="middle" font-weight="normal" fill="#1a1a1a" >CI activity</text>
<line x1="545.9" y1="1036" x2="545.9" y2="1039.3" stroke="#222222" stroke-width="1.2" />
<text x="545.9" y="1052.0" font-size="13.3" text-anchor="middle" font-weight="normal" fill="#1a1a1a" >Low</text>
<text x="545.9" y="1063.5" font-size="13.3" text-anchor="middle" font-weight="normal" fill="#1a1a1a" >CI activity</text>
<text transform="translate(361.0,945.0) rotate(-90)" font-size="13.3" text-anchor="middle" fill="#1a1a1a">% of individuals</text>
<text x="605.0" y="915.0" font-size="10.4" text-anchor="start" font-weight="normal" fill="#1a1a1a" >Motor phenotype</text>
<rect x="605.0" y="921.0" width="18.8" height="18.3" fill="#d9d9d9"/>
<rect x="605.0" y="942.4" width="18.8" height="18.2" fill="#b92e1d"/>
<text x="628.8" y="934.2" font-size="10.3" text-anchor="start" font-weight="normal" fill="#1a1a1a" >PIGD</text>
<text x="628.8" y="954.7" font-size="10.3" text-anchor="start" font-weight="normal" fill="#1a1a1a" >TD</text>
</svg></body></html>
